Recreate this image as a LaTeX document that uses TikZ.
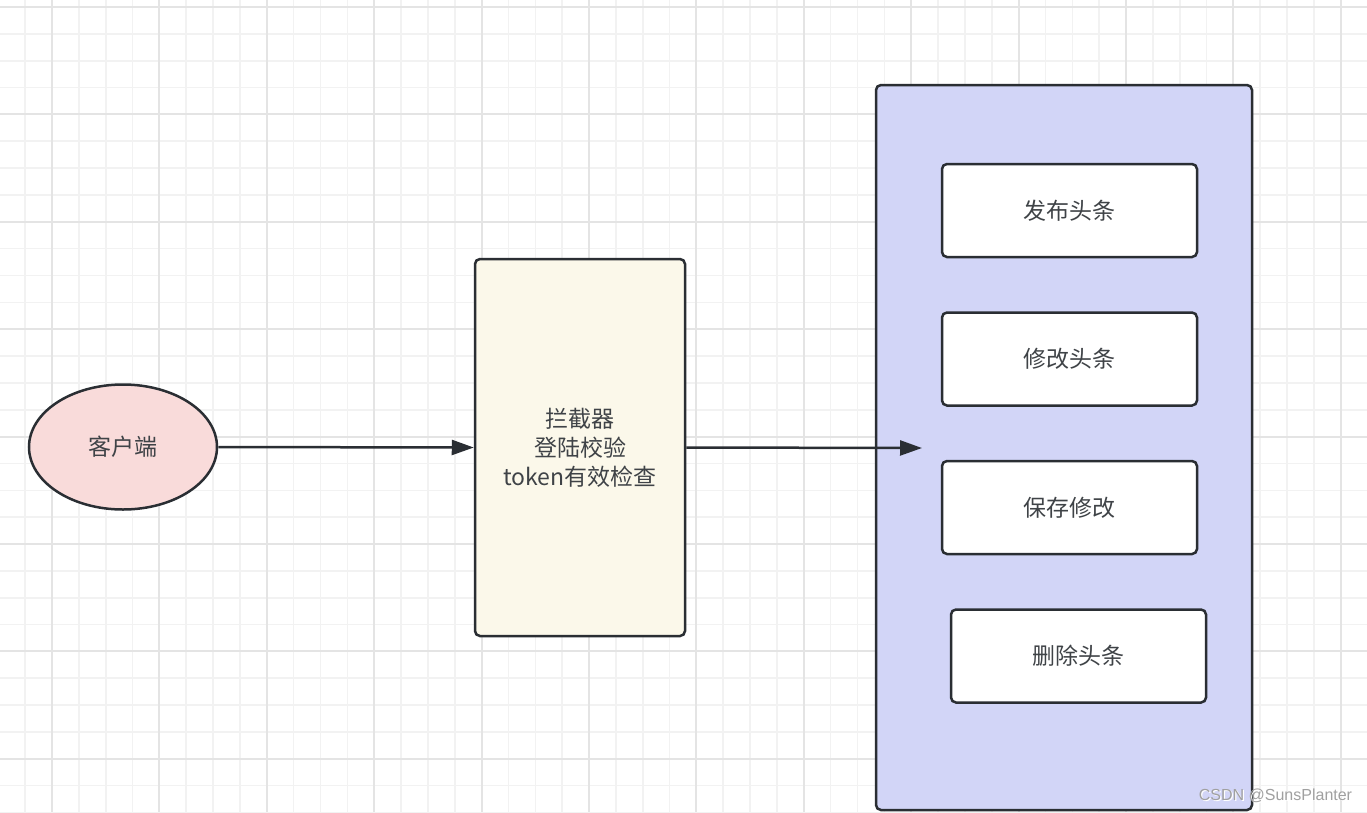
\documentclass[tikz,border=0pt]{standalone}
\usepackage{fontspec}
\setmainfont{Noto Sans CJK SC}
\newfontfamily\wmfont{Liberation Sans}
\usetikzlibrary{arrows.meta,shapes.geometric}
\definecolor{edge}{RGB}{42,46,51}
\definecolor{pinkfill}{RGB}{249,219,218}
\definecolor{creamfill}{RGB}{251,248,234}
\definecolor{bluefill}{RGB}{210,213,247}
\definecolor{minorgrid}{RGB}{242,242,242}
\definecolor{majorgrid}{RGB}{228,228,228}
\definecolor{wmgray}{RGB}{160,160,160}
\tikzset{
  minorline/.style={draw=minorgrid, line width=1.6pt},
  majorline/.style={draw=majorgrid, line width=2pt},
  shapebase/.style={draw=edge, line width=2.5pt, inner sep=0pt,
    font=\fontsize{23}{29}\selectfont, text=edge!90!white, align=center},
  boxstyle/.style={shapebase, rectangle, rounded corners=5pt},
  itembox/.style={boxstyle, fill=white, minimum width=255pt, minimum height=93pt},
  conn/.style={draw=edge, line width=2.5pt, -{Triangle[length=22pt,width=15pt]}},
}
\begin{document}
\begin{tikzpicture}[x=1pt,y=-1pt]
\useasboundingbox (0,0) rectangle (1367,812);
\fill[white] (0,0) rectangle (1367,812);
% grid
\foreach \i in {-1,...,49} {\draw[minorline] ({52+26.85*\i},0) -- ({52+26.85*\i},812);}
\foreach \i in {0,...,30} {\draw[minorline] (0,{7+26.85*\i}) -- (1367,{7+26.85*\i});}
\foreach \i in {0,...,12} {\draw[majorline] ({52+107.4*\i},0) -- ({52+107.4*\i},812);}
\foreach \i in {0,...,7} {\draw[majorline] (0,{7+107.4*\i}) -- (1367,{7+107.4*\i});}
% shapes
\node[shapebase, ellipse, fill=pinkfill, minimum width=188pt, minimum height=125pt] (client) at (123,447) {客户端};
\node[boxstyle, fill=creamfill, minimum width=210pt, minimum height=377pt] (filter) at (580,447.5) {拦截器\\登陆校验\\token有效检查};
\node[boxstyle, fill=bluefill, minimum width=376pt, minimum height=725pt] (service) at (1064,447.5) {};
\node[itembox] (publish) at (1069.5,210.5) {发布头条};
\node[itembox] (modify) at (1069.5,359) {修改头条};
\node[itembox] (save) at (1069.5,507.5) {保存修改};
\node[itembox] (delete) at (1078.5,656) {删除头条};
% connectors
\coordinate (entry) at (922,448);
\draw[conn] (client.east) -- (filter.west);
\draw[conn] (filter.east) -- (entry);
% watermark
\node[font=\wmfont\fontsize{16}{16}\selectfont, text=white, anchor=center] (wmshadow) at (1276.7,796.7) {CSDN @SunsPlanter};
\node[font=\wmfont\fontsize{16}{16}\selectfont, text=wmgray, anchor=center] (wm) at (1275.5,795.5) {CSDN @SunsPlanter};
\end{tikzpicture}
\end{document}
